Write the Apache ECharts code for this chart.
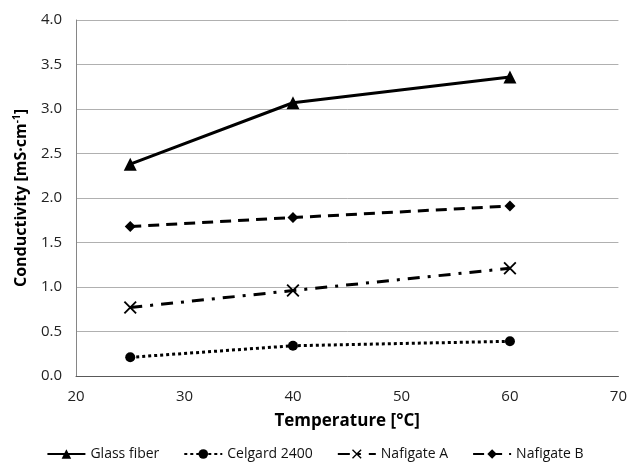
<!DOCTYPE html>
<html>
<head>
<meta charset="utf-8">
<script src="https://cdn.jsdelivr.net/npm/echarts@6/dist/echarts.min.js"></script>
<style>html,body{margin:0;padding:0;background:#fff}#c{width:630px;height:468px}</style>
</head>
<body>
<div id="c"></div>
<script>
const temperatures = [25, 40, 60];
const seriesNames = ['Glass fiber', 'Celgard 2400', 'Nafigate A', 'Nafigate B'];
const glassFiber = [2.38, 3.07, 3.36];
const celgard2400 = [0.21, 0.34, 0.39];
const nafigateA = [0.77, 0.96, 1.21];
const nafigateB = [1.68, 1.78, 1.91];
const yTicks = [0, 0.5, 1, 1.5, 2, 2.5, 3, 3.5, 4];
const xTicks = [20, 30, 40, 50, 60, 70];

const font = 'Open Sans';
const xShape = 'path://M0,1L1,0L10,9L9,10Z M9,0L10,1L1,10L0,9Z';

function pairs(vals){ return temperatures.map((t,i)=>[t, vals[i]]); }

const chart = echarts.init(document.getElementById('c'));
chart.setOption({
  animation: false,
  backgroundColor: '#fff',
  grid: {left: 76, right: 9, top: 20, bottom: 92},
  xAxis: {
    type: 'value', min: xTicks[0], max: xTicks[xTicks.length-1], interval: 10,
    name: 'Temperature [°C]', nameLocation: 'middle', nameGap: 37,
    nameTextStyle: {fontFamily: font, fontWeight: 'bold', fontSize: 17, color: '#000'},
    axisLine: {show: true, lineStyle: {color: '#595959', width: 1}},
    axisTick: {show: false},
    axisLabel: {fontFamily: font, fontSize: 15, color: '#222', margin: 13},
    splitLine: {show: false}
  },
  yAxis: {
    type: 'value', min: yTicks[0], max: yTicks[yTicks.length-1], interval: 0.5,
    name: 'Conductivity [mS·cm{sup|-1}]', nameLocation: 'middle', nameGap: 46,
    nameTextStyle: {fontFamily: font, fontWeight: 'bold', fontSize: 16, color: '#000',
      rich: {sup: {fontFamily: font, fontWeight: 'bold', fontSize: 10, color: '#000', verticalAlign: 'top', padding: [0,0,8,0]}}},
    axisLine: {show: true, lineStyle: {color: '#868686', width: 1}},
    axisTick: {show: false},
    axisLabel: {fontFamily: font, fontSize: 15, color: '#222', margin: 14, formatter: v => v.toFixed(1)},
    splitLine: {show: true, lineStyle: {color: '#b0b0b0', width: 1}}
  },
  legend: {
    bottom: 2, left: 'center', itemGap: 24, itemWidth: 38, itemHeight: 12,
    textStyle: {fontFamily: font, fontSize: 14, color: '#111'},
    data: seriesNames
  },
  series: [
    {name: seriesNames[0], type: 'line', data: pairs(glassFiber), symbol: 'triangle', symbolSize: 13,
     lineStyle: {color: '#000', width: 3}, itemStyle: {color: '#000'}},
    {name: seriesNames[1], type: 'line', data: pairs(celgard2400), symbol: 'circle', symbolSize: 10,
     lineStyle: {color: '#000', width: 3, type: [3, 3]}, itemStyle: {color: '#000'}},
    {name: seriesNames[2], type: 'line', data: pairs(nafigateA), symbol: xShape, symbolSize: 13,
     lineStyle: {color: '#000', width: 3, type: [12, 8, 3, 8]}, itemStyle: {color: '#000'}},
    {name: seriesNames[3], type: 'line', data: pairs(nafigateB), symbol: 'diamond', symbolSize: 11,
     lineStyle: {color: '#000', width: 3, type: [11, 7]}, itemStyle: {color: '#000'}}
  ]
});
</script>
</body>
</html>
